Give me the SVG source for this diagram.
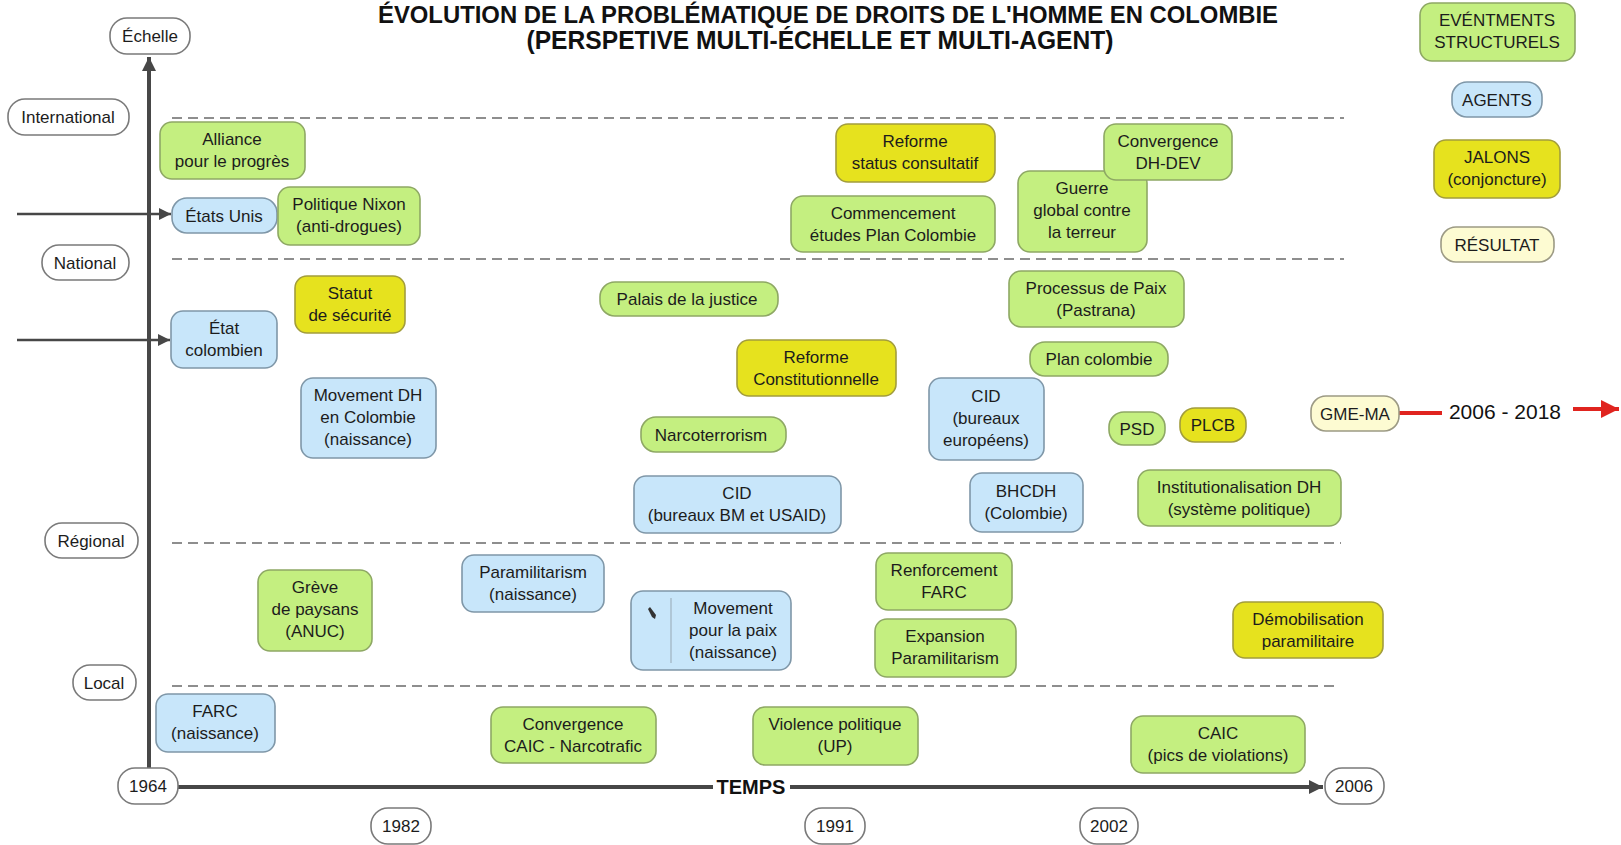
<svg xmlns="http://www.w3.org/2000/svg" width="1621" height="845" viewBox="0 0 1621 845">
<style>
text{font-family:"Liberation Sans",Arial,sans-serif;font-size:17px;fill:#1c1c1c;text-anchor:middle}
.g{fill:#c4ef80;stroke:#8ea864;stroke-width:1.6}
.b{fill:#c8e6fa;stroke:#7f97a8;stroke-width:1.6}
.y{fill:#e6e21e;stroke:#a29d3c;stroke-width:1.6}
.r{fill:#fdfbd2;stroke:#9c9a84;stroke-width:1.6}
.w{fill:#ffffff;stroke:#7a7a7a;stroke-width:1.6}
.ax{stroke:#474747;stroke-width:4;fill:none}
.ar{stroke:#474747;stroke-width:2.5;fill:none}
.dash{stroke:#6a6a6a;stroke-width:1.6;stroke-dasharray:10 6;fill:none}
.red{stroke:#e0241f;stroke-width:4;fill:none}
.title{font-weight:bold;fill:#111}
</style>
<defs>
<marker id="ah" viewBox="0 0 10 10" refX="10" refY="5" markerWidth="3.5" markerHeight="3.5" orient="auto" markerUnits="strokeWidth"><path d="M0,0 L10,5 L0,10 z" fill="#474747"/></marker>
<marker id="ah2" viewBox="0 0 10 10" refX="10" refY="5" markerWidth="5" markerHeight="5" orient="auto" markerUnits="strokeWidth"><path d="M0,0 L10,5 L0,10 z" fill="#474747"/></marker>
<marker id="ahr" viewBox="0 0 10 10" refX="10" refY="5" markerWidth="4.5" markerHeight="4.5" orient="auto" markerUnits="strokeWidth"><path d="M0,0 L10,5 L0,10 z" fill="#e0241f"/></marker>
</defs>

<g id="title">
<text class="title" x="828" y="23" style="font-size:24px" textLength="900" lengthAdjust="spacingAndGlyphs">ÉVOLUTION DE LA PROBLÉMATIQUE DE DROITS DE L'HOMME EN COLOMBIE</text>
<text class="title" x="820" y="49" style="font-size:26px" textLength="587" lengthAdjust="spacingAndGlyphs">(PERSPETIVE MULTI-ÉCHELLE ET MULTI-AGENT)</text>
</g>

<g id="connectors">
<path class="dash" d="M172,118 H1344"/>
<path class="dash" d="M172,259 H1344"/>
<path class="dash" d="M172,543 H1341"/>
<path class="dash" d="M172,686 H1337"/>
<path class="ax" d="M149,768 V57" marker-end="url(#ah)"/>
<path class="ax" d="M178,787 H713"/>
<path class="ax" d="M790,787 H1323" marker-end="url(#ah)"/>
<path class="ar" d="M17,214 H171" marker-end="url(#ah2)"/>
<path class="ar" d="M17,340 H170" marker-end="url(#ah2)"/>
<path class="red" d="M1399,413 H1442"/>
<path class="red" d="M1573,409 H1619" marker-end="url(#ahr)"/>
<text x="751" y="794" style="font-weight:bold;font-size:20px;fill:#111">TEMPS</text>
<text x="1505" y="419" style="font-size:21px;fill:#111">2006 - 2018</text>
</g>

<g id="legend-evenements"><rect class="g" x="1420" y="3" width="155" height="58" rx="12"/><text x="1497" y="26">EVÉNTMENTS</text><text x="1497" y="48">STRUCTURELS</text></g>
<g id="legend-agents"><rect class="b" x="1452" y="82" width="90" height="35" rx="15"/><text x="1497" y="106">AGENTS</text></g>
<g id="legend-jalons"><rect class="y" x="1434" y="140" width="126" height="58" rx="12"/><text x="1497" y="163">JALONS</text><text x="1497" y="185">(conjoncture)</text></g>
<g id="legend-resultat"><rect class="r" x="1441" y="227" width="113" height="35" rx="15"/><text x="1497" y="251">RÉSULTAT</text></g>

<g id="lbl-echelle"><rect class="w" x="110" y="18" width="80" height="36" rx="17"/><text x="150" y="42">Échelle</text></g>
<g id="lbl-international"><rect class="w" x="8" y="99" width="121" height="36" rx="17"/><text x="68" y="123">International</text></g>
<g id="lbl-national"><rect class="w" x="42" y="245" width="87" height="35" rx="17"/><text x="85" y="269">National</text></g>
<g id="lbl-regional"><rect class="w" x="45" y="523" width="93" height="35" rx="17"/><text x="91" y="547">Régional</text></g>
<g id="lbl-local"><rect class="w" x="73" y="665" width="63" height="35" rx="17"/><text x="104" y="689">Local</text></g>
<g id="lbl-1964"><rect class="w" x="118" y="768" width="60" height="36" rx="17"/><text x="148" y="792">1964</text></g>
<g id="lbl-2006"><rect class="w" x="1325" y="768" width="59" height="36" rx="17"/><text x="1354" y="792">2006</text></g>
<g id="lbl-1982"><rect class="w" x="371" y="808" width="60" height="36" rx="17"/><text x="401" y="832">1982</text></g>
<g id="lbl-1991"><rect class="w" x="805" y="808" width="60" height="36" rx="17"/><text x="835" y="832">1991</text></g>
<g id="lbl-2002"><rect class="w" x="1080" y="808" width="58" height="36" rx="17"/><text x="1109" y="832">2002</text></g>

<g id="n-alliance"><rect class="g" x="160" y="122" width="145" height="57" rx="12"/><text x="232" y="145">Alliance</text><text x="232" y="167">pour le progrès</text></g>
<g id="n-etatsunis"><rect class="b" x="172" y="198" width="105" height="35" rx="15"/><text x="224" y="222">États Unis</text></g>
<g id="n-nixon"><rect class="g" x="278" y="187" width="142" height="58" rx="12"/><text x="349" y="210">Politique Nixon</text><text x="349" y="232">(anti-drogues)</text></g>
<g id="n-reforme-status"><rect class="y" x="836" y="124" width="159" height="58" rx="12"/><text x="915" y="147">Reforme</text><text x="915" y="169">status consultatif</text></g>
<g id="n-commencement"><rect class="g" x="791" y="196" width="204" height="56" rx="12"/><text x="893" y="219">Commencement</text><text x="893" y="241">études Plan Colombie</text></g>
<g id="n-guerre"><rect class="g" x="1018" y="171" width="129" height="81" rx="12"/><text x="1082" y="194">Guerre</text><text x="1082" y="216">global contre</text><text x="1082" y="238">la terreur</text></g>
<g id="n-convergence-dhdev"><rect class="g" x="1104" y="124" width="128" height="56" rx="12"/><text x="1168" y="147">Convergence</text><text x="1168" y="169">DH-DEV</text></g>
<g id="n-statut"><rect class="y" x="295" y="276" width="110" height="57" rx="12"/><text x="350" y="299">Statut</text><text x="350" y="321">de sécurité</text></g>
<g id="n-etat"><rect class="b" x="171" y="311" width="106" height="57" rx="12"/><text x="224" y="334">État</text><text x="224" y="356">colombien</text></g>
<g id="n-mvtdh"><rect class="b" x="301" y="378" width="135" height="80" rx="12"/><text x="368" y="401">Movement DH</text><text x="368" y="423">en Colombie</text><text x="368" y="445">(naissance)</text></g>
<g id="n-palais"><rect class="g" x="600" y="282" width="178" height="34" rx="15"/><text x="687" y="305">Palais de la justice</text></g>
<g id="n-reforme-const"><rect class="y" x="737" y="340" width="159" height="56" rx="12"/><text x="816" y="363">Reforme</text><text x="816" y="385">Constitutionnelle</text></g>
<g id="n-narco"><rect class="g" x="641" y="417" width="145" height="35" rx="15"/><text x="711" y="441">Narcoterrorism</text></g>
<g id="n-cid-bm"><rect class="b" x="634" y="476" width="207" height="57" rx="12"/><text x="737" y="499">CID</text><text x="737" y="521">(bureaux BM et USAID)</text></g>
<g id="n-processus"><rect class="g" x="1009" y="271" width="175" height="56" rx="12"/><text x="1096" y="294">Processus de Paix</text><text x="1096" y="316">(Pastrana)</text></g>
<g id="n-plan"><rect class="g" x="1030" y="342" width="138" height="34" rx="15"/><text x="1099" y="365">Plan colombie</text></g>
<g id="n-cid-eu"><rect class="b" x="929" y="378" width="115" height="82" rx="12"/><text x="986" y="402">CID</text><text x="986" y="424">(bureaux</text><text x="986" y="446">européens)</text></g>
<g id="n-bhcdh"><rect class="b" x="970" y="473" width="113" height="59" rx="12"/><text x="1026" y="497">BHCDH</text><text x="1026" y="519">(Colombie)</text></g>
<g id="n-psd"><rect class="g" x="1109" y="412" width="56" height="33" rx="15"/><text x="1137" y="435">PSD</text></g>
<g id="n-plcb"><rect class="y" x="1180" y="408" width="66" height="34" rx="15"/><text x="1213" y="431">PLCB</text></g>
<g id="n-institution"><rect class="g" x="1138" y="470" width="203" height="56" rx="12"/><text x="1239" y="493">Institutionalisation DH</text><text x="1239" y="515">(système politique)</text></g>
<g id="n-gme"><rect class="r" x="1311" y="396" width="88" height="35" rx="15"/><text x="1355" y="420">GME-MA</text></g>
<g id="n-greve"><rect class="g" x="258" y="570" width="114" height="81" rx="12"/><text x="315" y="593">Grève</text><text x="315" y="615">de paysans</text><text x="315" y="637">(ANUC)</text></g>
<g id="n-paramil"><rect class="b" x="462" y="555" width="142" height="57" rx="12"/><text x="533" y="578">Paramilitarism</text><text x="533" y="600">(naissance)</text></g>
<g id="n-mvtpaix"><rect class="b" x="631" y="591" width="160" height="79" rx="12"/><path d="M671,598 V663" stroke="#9fb3c0" stroke-width="1.2"/><path d="M648,609 l2,-2 l6,8 l-1,4 l-3,-2 z" fill="#333"/><text x="733" y="614">Movement</text><text x="733" y="636">pour la paix</text><text x="733" y="658">(naissance)</text></g>
<g id="n-renforcement"><rect class="g" x="876" y="553" width="136" height="57" rx="12"/><text x="944" y="576">Renforcement</text><text x="944" y="598">FARC</text></g>
<g id="n-expansion"><rect class="g" x="875" y="619" width="141" height="58" rx="12"/><text x="945" y="642">Expansion</text><text x="945" y="664">Paramilitarism</text></g>
<g id="n-demob"><rect class="y" x="1233" y="602" width="150" height="56" rx="12"/><text x="1308" y="625">Démobilisation</text><text x="1308" y="647">paramilitaire</text></g>
<g id="n-farc"><rect class="b" x="156" y="694" width="119" height="58" rx="12"/><text x="215" y="717">FARC</text><text x="215" y="739">(naissance)</text></g>
<g id="n-convergence-caic"><rect class="g" x="491" y="707" width="165" height="56" rx="12"/><text x="573" y="730">Convergence</text><text x="573" y="752">CAIC - Narcotrafic</text></g>
<g id="n-violence"><rect class="g" x="753" y="707" width="165" height="58" rx="12"/><text x="835" y="730">Violence politique</text><text x="835" y="752">(UP)</text></g>
<g id="n-caic"><rect class="g" x="1131" y="716" width="174" height="57" rx="12"/><text x="1218" y="739">CAIC</text><text x="1218" y="761">(pics de violations)</text></g>
</svg>
